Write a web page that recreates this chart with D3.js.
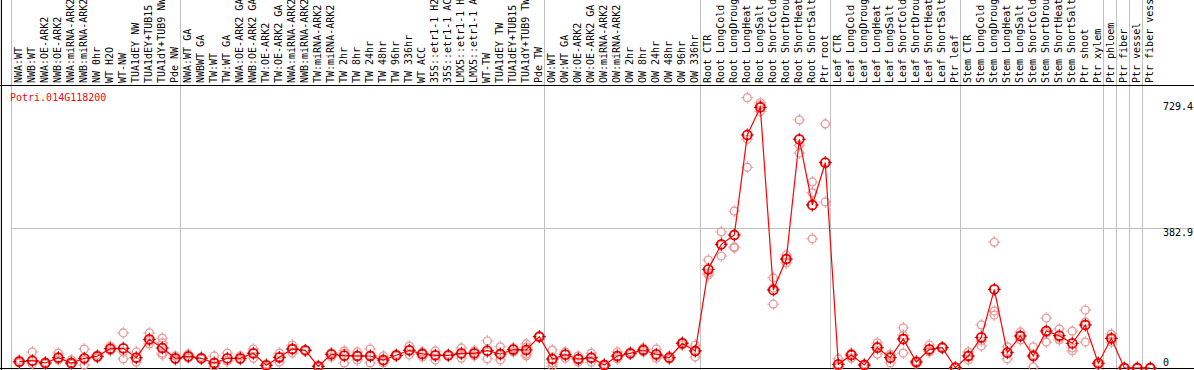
<!DOCTYPE html>
<html>
<head>
<meta charset="utf-8">
<script src="https://cdn.jsdelivr.net/npm/d3@7"></script>
<style>
  body { margin: 0; background: #fff; }
  svg { display: block; }
  text { font-family: "DejaVu Sans Mono", monospace; font-size: 10px; }
</style>
</head>
<body>
<div id="chart"></div>
<script>
// ---------------------------------------------------------------- data
const geneName = "Potri.014G118200";

const samples = [
  // NW
  "NWA:WT", "NWB:WT", "NWA:OE-ARK2", "NWB:OE-ARK2", "NWA:miRNA-ARK2", "NWB:miRNA-ARK2",
  "NW 0hr", "WT H2O", "WT-NW", "TUA1dEY NW", "TUA1dEY+TUB15 NW", "TUA1dY+TUB9 NW", "Pde NW",
  // TW
  "NWA:WT GA", "NWBWT GA", "TW:WT", "TW:WT GA", "NWA:OE-ARK2 GA", "NWB:OE-ARK2 GA",
  "TW:OE-ARK2", "TW:OE-ARK2 GA", "NWA:miRNA-ARK2 GA", "NWB:miRNA-ARK2 GA", "TW:miRNA-ARK2",
  "TW:miRNA-ARK2 GA", "TW 2hr", "TW 8hr", "TW 24hr", "TW 48hr", "TW 96hr", "TW 336hr",
  "WT ACC", "35S::etr1-1 H2O", "35S::etr1-1 ACC", "LMX5::etr1-1 H2O", "LMX5::etr1-1 ACC",
  "WT-TW", "TUA1dEY TW", "TUA1dEY+TUB15 TW", "TUA1dY+TUB9 TW", "Pde TW",
  // OW
  "OW:WT", "OW:WT GA", "OW:OE-ARK2", "OW:OE-ARK2 GA", "OW:miRNA-ARK2", "OW:miRNA-ARK2 GA",
  "OW 2hr", "OW 8hr", "OW 24hr", "OW 48hr", "OW 96hr", "OW 336hr",
  // root
  "Root CTR", "Root LongCold", "Root LongDrought", "Root LongHeat", "Root LongSalt",
  "Root ShortCold", "Root ShortDrought", "Root ShortHeat", "Root ShortSalt", "Ptr root",
  // leaf
  "Leaf CTR", "Leaf LongCold", "Leaf LongDrought", "Leaf LongHeat", "Leaf LongSalt",
  "Leaf ShortCold", "Leaf ShortDrought", "Leaf ShortHeat", "Leaf ShortSalt", "Ptr leaf",
  // stem
  "Stem CTR", "Stem LongCold", "Stem LongDrought", "Stem LongHeat", "Stem LongSalt",
  "Stem ShortCold", "Stem ShortDrought", "Stem ShortHeat", "Stem ShortSalt", "Ptr shoot",
  "Ptr xylem",
  "Ptr phloem", "Ptr fiber", "Ptr vessel", "Ptr fiber vessel"
];

// index of first sample in each group (a grey separator is drawn before it)
const groupStarts = [0, 13, 41, 53, 63, 73, 84, 85, 86, 87, 88];

// mean expression per sample
const means = [
  17.3, 20.0, 13.7, 28.2, 13.7, 26.6, 32.1, 52.9, 54.0, 28.2, 78.7, 54.8, 26.6,
  32.1, 26.6, 13.7, 26.6, 26.6, 40.3, 7.4, 29.3, 52.1, 48.5, 4.7, 37.6, 33.7, 32.9,
  32.9, 21.9, 34.8, 48.5, 38.4, 34.8, 34.8, 40.3, 40.3, 47.4, 38.4, 50.2, 49.3, 85.8,
  24.7, 36.5, 24.7, 28.2, 8.2, 32.9, 40.3, 49.3, 37.6, 28.2, 67.7, 46.6,
  270.5, 339.1, 364.6, 638.7, 714.6, 213.8, 298.8, 626.9, 446.8, 562.7,
  10.1, 35.6, 8.2, 55.6, 28.2, 79.5, 16.4, 51.3, 55.6, 0.8,
  32.9, 84.1, 215.7, 41.9, 87.7, 32.9, 101.4, 88.5, 67.7, 117.9, 12.9,
  81.4, 0, 0, 0
];

// individual replicates per sample
const replicates = [
  [22, 14, 16], [44, 11, 19], [16, 11, 14], [41, 22, 27], [22, 11, 14], [52, 8, 22],
  [36, 27, 30], [60, 52, 47], [96, 25, 44], [44, 27, 16], [96, 66, 74], [82, 69, 41, 36],
  [33, 22, 25],
  [38, 30, 27], [30, 25, 27], [33, 5, 3], [41, 19, 19], [33, 22, 25], [52, 27, 41],
  [11, 3, 8], [41, 16, 30], [63, 41, 52], [49, 47, 49], [5, 3, 5], [41, 30, 41],
  [47, 14, 41], [44, 22, 33], [52, 14, 33], [33, 14, 19], [38, 33, 33], [60, 36, 49],
  [44, 30, 41], [47, 22, 36], [38, 33, 33], [55, 27, 38], [41, 33, 47], [74, 44, 25],
  [58, 22, 36], [55, 44, 52], [66, 58, 38, 33], [88, 85, 85],
  [49, 14, 5], [44, 27, 38], [33, 16, 25], [41, 16, 27], [11, 5, 8], [44, 25, 30],
  [44, 38, 38], [55, 44, 49], [52, 27, 33], [33, 25, 27], [71, 63, 69], [63, 30, 47],
  [296, 260, 255], [373, 307, 337], [430, 332, 329], [741, 627, 550], [727, 721, 703],
  [247, 175, 219], [310, 288, 299], [680, 611, 589], [510, 480, 354], [669, 565, 455],
  [25, 3, 3], [41, 27, 38], [11, 5, 8], [69, 38, 60], [38, 14, 33], [110, 90, 41],
  [19, 11, 19], [63, 44, 47], [58, 55, 55], [3, 0, 0],
  [44, 22, 33], [118, 74, 60], [345, 156, 145], [58, 25, 44], [99, 77, 88], [58, 3, 36],
  [137, 71, 96], [107, 82, 77], [101, 55, 47], [159, 126, 71], [16, 8, 14],
  [93, 71, 79], [0, 0, 0], [0, 0, 0], [0, 0, 0]
];

const yTicks = [0, 382.9, 729.4];
const gridTicks = [382.9];

// ---------------------------------------------------------------- setup
const width = 1194;
const height = 370;
const headerH = 85;
const grey = "#c0c0c0";
const repColor = "#eb9a9a";

const svg = d3.select("#chart")
  .append("svg")
  .attr("width", width)
  .attr("height", height);

const x = d3.scaleBand()
  .domain(d3.range(samples.length))
  .range([12.8, 12.8 + 13 * samples.length]);

const xc = (i) => x(i) + x.bandwidth() / 2;

const y = d3.scaleLinear()
  .domain([0, 382.9])
  .range([368, 228.3]);

// ---------------------------------------------------------------- frame
// group separators
svg.append("g")
  .selectAll("line")
  .data(groupStarts)
  .join("line")
  .attr("x1", (d) => Math.round(x(d) - 1.8) + 0.5)
  .attr("x2", (d) => Math.round(x(d) - 1.8) + 0.5)
  .attr("y1", 0)
  .attr("y2", height)
  .attr("stroke", grey);

// horizontal grid
svg.append("g")
  .selectAll("line")
  .data(gridTicks)
  .join("line")
  .attr("x1", x(0) - 1.8)
  .attr("x2", width)
  .attr("y1", (d) => Math.round(y(d)) + 0.5)
  .attr("y2", (d) => Math.round(y(d)) + 0.5)
  .attr("stroke", grey);

// borders
svg.append("line")
  .attr("x1", 0).attr("x2", width)
  .attr("y1", headerH + 0.5).attr("y2", headerH + 0.5)
  .attr("stroke", "#000");
svg.append("line")
  .attr("x1", 0).attr("x2", width)
  .attr("y1", height - 1.5).attr("y2", height - 1.5)
  .attr("stroke", "#000");
svg.append("line")
  .attr("x1", 1.5).attr("x2", 1.5)
  .attr("y1", 0).attr("y2", height)
  .attr("stroke", "#000");

// sample labels, rotated, reading upward
svg.append("g")
  .selectAll("text")
  .data(samples)
  .join("text")
  .attr("transform", (d, i) => `translate(${xc(i) + 2.7},${headerH - 2}) rotate(-90)`)
  .attr("fill", "#000")
  .text((d) => d);

// y labels on the right
svg.append("g")
  .selectAll("text")
  .data(yTicks)
  .join("text")
  .attr("x", 1163)
  .attr("y", (d) => (d === 0 ? y(d) - 2 : y(d) + 8))
  .attr("fill", "#000")
  .text((d) => d);

// gene name
svg.append("text")
  .attr("x", 10)
  .attr("y", 101)
  .attr("fill", "#ff0000")
  .text(geneName);

// ---------------------------------------------------------------- marks
function marker(g, color, r, sw) {
  g.append("circle")
    .attr("r", r)
    .attr("fill", "none")
    .attr("stroke", color)
    .attr("stroke-width", sw);
  g.append("path")
    .attr("d", `M0,${-r - 2}V${-r + 1}M0,${r - 1}V${r + 2}M${-r - 2},0H${-r + 1}M${r - 1},0H${r + 2}`)
    .attr("stroke", color)
    .attr("stroke-width", 1);
}

const reps = replicates.flatMap((vals, i) => vals.map((v) => ({ i, v })));

svg.append("g")
  .selectAll("g")
  .data(reps)
  .join("g")
  .attr("transform", (d) => `translate(${xc(d.i)},${y(d.v)})`)
  .each(function () { marker(d3.select(this), repColor, 4, 1.2); });

const line = d3.line()
  .x((d, i) => xc(i))
  .y((d) => y(d));

svg.append("path")
  .datum(means)
  .attr("d", line)
  .attr("fill", "none")
  .attr("stroke", "#ff0000")
  .attr("stroke-width", 1.2);

svg.append("g")
  .selectAll("g")
  .data(means)
  .join("g")
  .attr("transform", (d, i) => `translate(${xc(i)},${y(d)})`)
  .each(function () {
    const g = d3.select(this);
    g.append("circle")
      .attr("r", 4.5)
      .attr("fill", "none")
      .attr("stroke", "#ff0000")
      .attr("stroke-width", 1.8);
    g.append("path")
      .attr("d", "M0,-6.5V-3M0,3V6.5M-6.5,0H-3M3,0H6.5")
      .attr("stroke", "#a00000")
      .attr("stroke-width", 1);
  });
</script>
</body>
</html>
